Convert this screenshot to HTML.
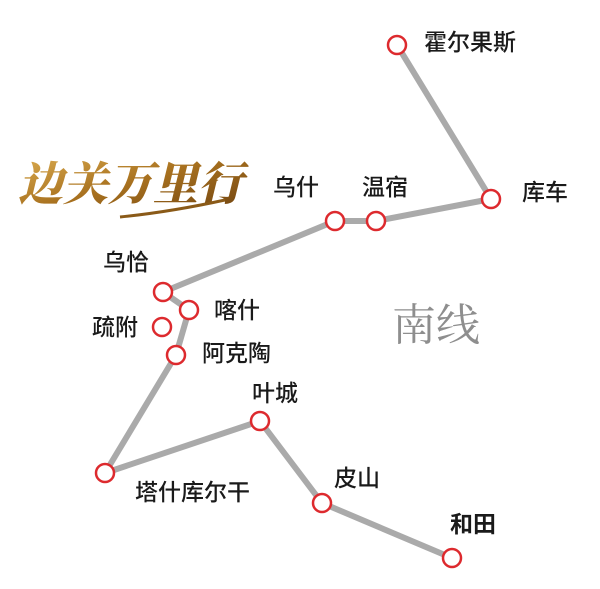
<!DOCTYPE html>
<html><head><meta charset="utf-8"><style>
html,body{margin:0;padding:0;background:#fff;}
svg{display:block;}
text{font-family:"Liberation Sans","Noto Sans CJK SC",sans-serif;font-size:23px;font-weight:500;fill:#1a1a1a;}
</style></head><body>
<svg width="600" height="589" viewBox="0 0 600 589" xmlns="http://www.w3.org/2000/svg">
<defs>
<linearGradient id="g" x1="0" y1="0" x2="1" y2="1">
<stop offset="0" stop-color="#e2b457"/><stop offset="0.5" stop-color="#a8711f"/><stop offset="1" stop-color="#6e4210"/>
</linearGradient>
</defs>
<text x="18" y="200" style="font-family:'Noto Serif CJK SC','Noto Sans CJK SC',serif;font-size:46px;font-weight:900;fill:url(#g);font-style:italic" textLength="225" lengthAdjust="spacingAndGlyphs">边关万里行</text>
<path d="M120 217 Q170 212 225 200" stroke="#8a5a18" stroke-width="3" fill="none"/>
<polyline points="397,45 491,199 376,221 335,221 163,292 189,310 176,355 105,473 260,421 322,503 452,558" fill="none" stroke="#aaaaaa" stroke-width="6" stroke-linejoin="round"/>
<g fill="#fff" stroke="#dd2a2e" stroke-width="2.5">
<circle cx="397" cy="45" r="9"/><circle cx="491" cy="199" r="9"/><circle cx="376" cy="221" r="9"/><circle cx="335" cy="221" r="9"/>
<circle cx="163" cy="292" r="9"/><circle cx="189" cy="310" r="9"/><circle cx="162" cy="327" r="9"/><circle cx="176" cy="355" r="9"/>
<circle cx="105" cy="473" r="9"/><circle cx="260" cy="421" r="9"/><circle cx="322" cy="503" r="9"/><circle cx="452" cy="558" r="9"/>
</g>
<text x="424" y="50">霍尔果斯</text>
<text x="522" y="200">库车</text>
<text x="273" y="195">乌什</text>
<text x="362" y="195">温宿</text>
<text x="103" y="270">乌恰</text>
<text x="214" y="318">喀什</text>
<text x="92" y="335">疏附</text>
<text x="202" y="361">阿克陶</text>
<text x="252" y="401">叶城</text>
<text x="135" y="500">塔什库尔干</text>
<text x="334" y="486">皮山</text>
<text x="450" y="532" style="font-weight:bold">和田</text>
<text x="392" y="340" style="font-family:'Noto Serif CJK SC',serif;font-size:44px;font-weight:400;fill:#8e8e8e">南线</text>
</svg>
</body></html>
